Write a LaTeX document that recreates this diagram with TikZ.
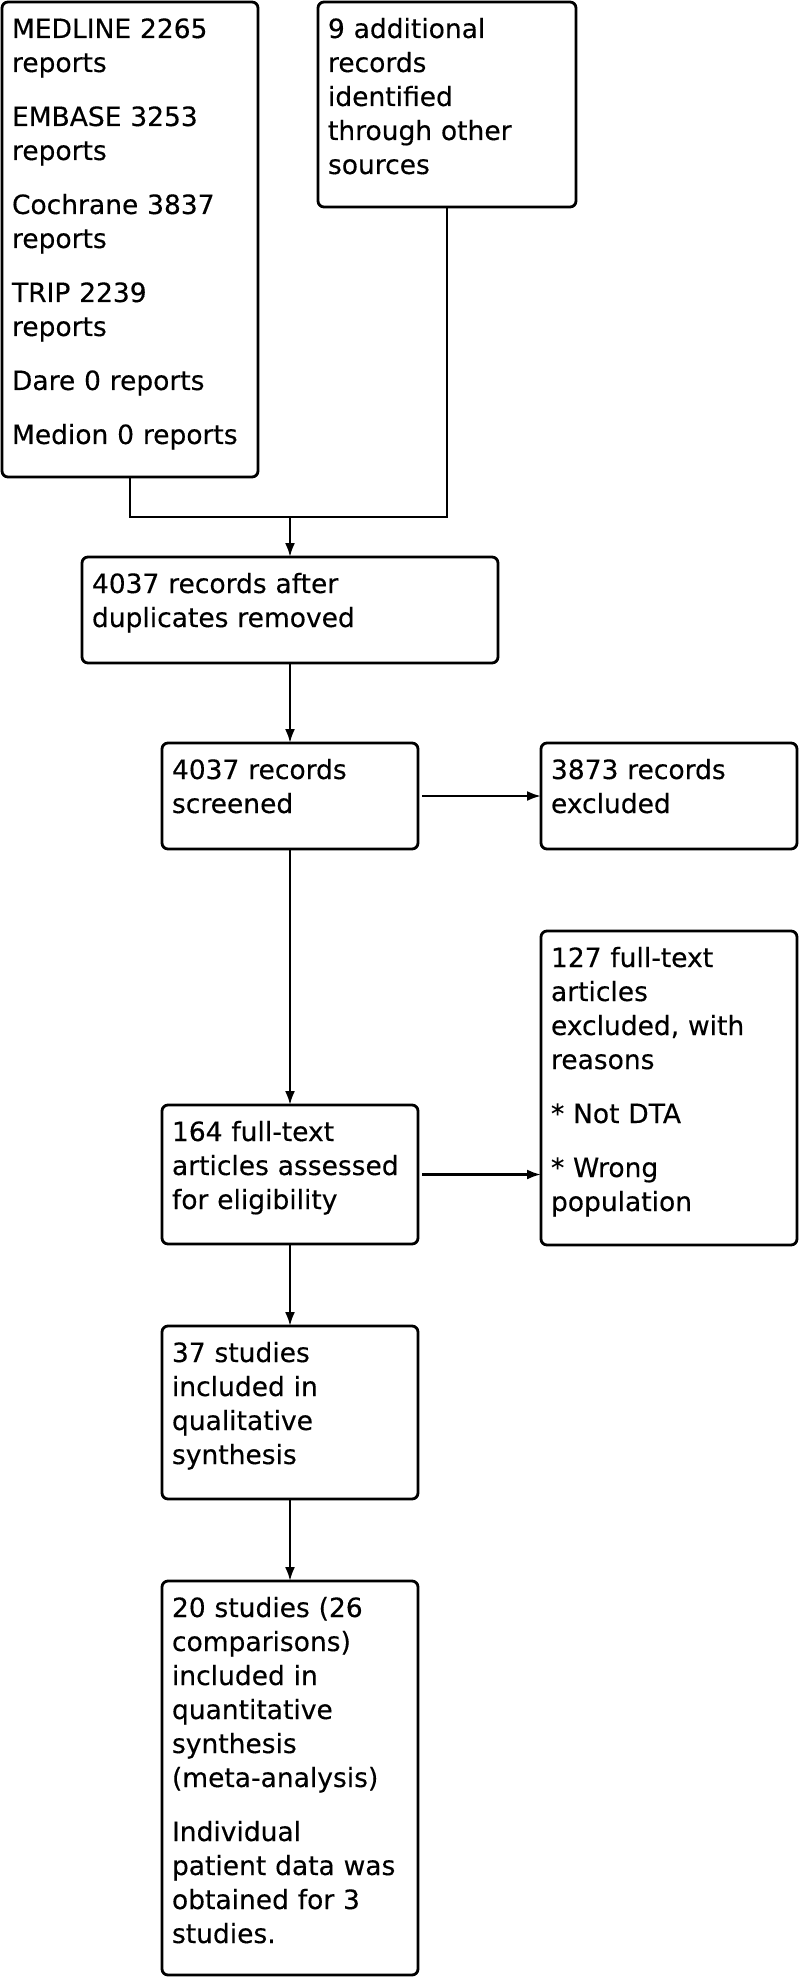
\documentclass[tikz,border=0pt]{standalone}
\usepackage{fontspec}
\newfontfamily\boxfont[FakeBold=0.3]{DejaVu Sans}
\usetikzlibrary{arrows.meta}
\begin{document}
\begin{tikzpicture}[x=1pt,y=-1pt,
  box/.style={draw, line width=2.8pt, rounded corners=6pt, anchor=north west,
    outer sep=0pt, inner xsep=10pt, inner ysep=0pt, align=left, text height=36pt,
    font=\boxfont\fontsize{26.5}{34}\selectfont},
  conn/.style={line width=2.4pt},
  arr/.style={conn, -{Latex[length=14pt,width=10pt]}}]
\useasboundingbox (0,0) rectangle (800,1977);
\node[box, text width=236pt, text depth=439pt] (A) at (2,2)
  {MEDLINE 2265\\reports\\[20pt]EMBASE 3253\\reports\\[20pt]Cochrane 3837\\reports\\[20pt]TRIP 2239\\reports\\[20pt]Dare 0 reports\\[20pt]Medion 0 reports};
\node[box, text width=238pt, text depth=169pt] (B) at (318,2)
  {9 additional\\records\\identified\\through other\\sources};
\node[box, text width=396pt, text depth=70pt] (C) at (82,557)
  {4037 records after\\duplicates removed};
\node[box, text width=236pt, text depth=70pt] (D) at (162,743)
  {4037 records\\screened};
\node[box, text width=236pt, text depth=70pt] (E) at (541,743)
  {3873 records\\excluded};
\node[box, text width=236pt, text depth=278pt] (F) at (541,931)
  {127 full-text\\articles\\excluded, with\\reasons\\[20pt]* Not DTA\\[20pt]* Wrong\\population};
\node[box, text width=236pt, text depth=103pt] (G) at (162,1105)
  {164 full-text\\articles assessed\\for eligibility};
\node[box, text width=236pt, text depth=137pt] (H) at (162,1326)
  {37 studies\\included in\\qualitative\\synthesis};
\node[box, text width=236pt, text depth=358pt] (I) at (162,1581)
  {20 studies (26\\comparisons)\\included in\\quantitative\\synthesis\\(meta-analysis)\\[20pt]Individual\\patient data was\\obtained for 3\\studies.};
\coordinate (jm) at (290,517);
\draw[conn] (A.south) |- (jm) -| (B.south);
\draw[arr] (jm) -- (C.north);
\draw[arr] (C.south) -- (D.north);
\draw[arr, shorten <=4pt] (D.east) -- (E.west);
\draw[arr] (D.south) -- (G.north);
\draw[arr, shorten <=4pt] (G.east) -- (G.east -| F.west);
\draw[arr] (G.south) -- (H.north);
\draw[arr] (H.south) -- (I.north);
\end{tikzpicture}
\end{document}
